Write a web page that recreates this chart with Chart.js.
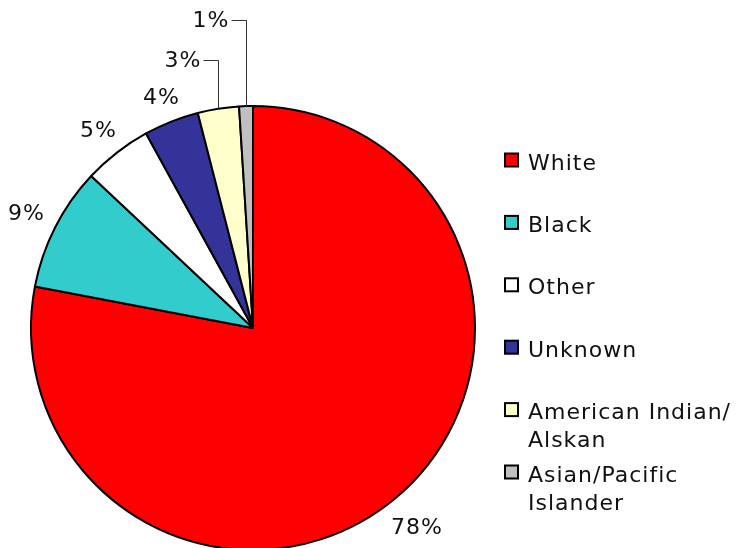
<!DOCTYPE html>
<html>
<head>
<meta charset="utf-8">
<script src="https://cdn.jsdelivr.net/npm/chart.js@4/dist/chart.umd.min.js"></script>
<style>
  html, body { margin: 0; padding: 0; background: #fff; overflow: hidden; }
  #wrap { width: 739px; height: 548px; overflow: hidden; position: relative; }
  canvas { display: block; }
</style>
</head>
<body>
<div id="wrap"><canvas id="raceChart" width="739" height="560"></canvas></div>
<script>
const categories = ['White', 'Black', 'Other', 'Unknown', 'American Indian/\nAlskan', 'Asian/Pacific\nIslander'];
const percents = [78, 9, 5, 4, 3, 1];
const sliceColors = ['#ff0000', '#33cccc', '#ffffff', '#333399', '#ffffcc', '#c0c0c0'];

const FONT = '22px "DejaVu Sans", Verdana, sans-serif';

// the two thinnest slices get a bent leader line up to these heights
const leaderY = { 4: 60, 5: 20 };

// percent labels around the rim
const sliceLabels = {
    id: 'sliceLabels',
    afterDraw(chart) {
        const ctx = chart.ctx;
        const arcs = chart.getDatasetMeta(0).data;
        ctx.save();
        ctx.font = FONT;
        ctx.letterSpacing = '1px';
        ctx.fillStyle = '#111';
        arcs.forEach((arc, i) => {
            const text = percents[i] + '%';
            const mid = (arc.startAngle + arc.endAngle) / 2;
            const cos = Math.cos(mid), sin = Math.sin(mid);
            if (leaderY[i] !== undefined) {
                const ex = Math.round(arc.x + cos * arc.outerRadius) + 0.5;
                const ey = arc.y + sin * arc.outerRadius;
                const ly = leaderY[i] + 0.5;
                ctx.strokeStyle = '#333';
                ctx.lineWidth = 1;
                ctx.beginPath();
                ctx.moveTo(ex, ey);
                ctx.lineTo(ex, ly);
                ctx.lineTo(ex - 15, ly);
                ctx.stroke();
                ctx.textAlign = 'right';
                ctx.textBaseline = 'middle';
                ctx.fillText(text, ex - 17, ly + 1);
            } else {
                const w = ctx.measureText(text).width;
                const d = 12 + Math.abs(cos) * w / 2 + Math.abs(sin) * 17 / 2;
                const r = arc.outerRadius + d;
                ctx.textAlign = 'center';
                ctx.textBaseline = 'middle';
                ctx.fillText(text, arc.x + cos * r, arc.y + sin * r + 2);
            }
        });
        ctx.restore();
    }
};

// legend on the right, one box per slice
const sideLegend = {
    id: 'sideLegend',
    afterDraw(chart) {
        const ctx = chart.ctx;
        ctx.save();
        ctx.font = FONT;
        ctx.letterSpacing = '1px';
        ctx.textAlign = 'left';
        ctx.textBaseline = 'alphabetic';
        categories.forEach((name, i) => {
            const cy = 160.5 + i * 62.4;
            ctx.fillStyle = sliceColors[i];
            ctx.fillRect(505, cy - 7, 13, 13);
            ctx.strokeStyle = '#000';
            ctx.lineWidth = 2;
            ctx.strokeRect(505, cy - 7, 13, 13);
            ctx.fillStyle = '#111';
            name.split('\n').forEach((line, j) => {
                ctx.fillText(line, 528, cy + 9 + j * 28);
            });
        });
        ctx.restore();
    }
};

new Chart(document.getElementById('raceChart'), {
    type: 'pie',
    data: {
        labels: categories,
        datasets: [{
            data: percents,
            backgroundColor: sliceColors,
            borderColor: '#000',
            borderWidth: 2
        }]
    },
    options: {
        responsive: false,
        animation: false,
        radius: 222,
        layout: { padding: { left: 31, top: 106, right: 264, bottom: 10 } },
        plugins: {
            legend: { display: false },
            tooltip: { enabled: false }
        }
    },
    plugins: [sliceLabels, sideLegend]
});
</script>
</body>
</html>
